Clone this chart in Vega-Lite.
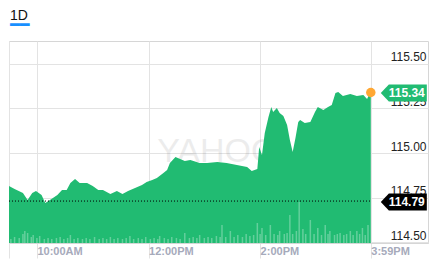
{
  "$schema": "https://vega.github.io/schema/vega-lite/v6.json",
  "width": 419,
  "height": 202,
  "autosize": {"type": "none"},
  "padding": {"left": 9, "top": 41, "right": 9, "bottom": 23},
  "background": "white",
  "config": {"font": "Liberation Sans", "view": {"stroke": "#d6d6d6", "strokeWidth": 1}},
  "title": {"text": "1D", "subtitle": "━━", "anchor": "start", "frame": "group", "fontSize": 14, "fontWeight": "normal", "color": "#111", "subtitleColor": "#188fff", "subtitleFontSize": 16, "subtitleFont": "DejaVu Sans", "subtitlePadding": -6, "offset": 8, "dx": 1},
  "datasets": {
    "price": [
      {"t": 570, "p": 114.815}, {"t": 576, "p": 114.798}, {"t": 585, "p": 114.775}, {"t": 590, "p": 114.736},
      {"t": 595, "p": 114.775}, {"t": 599, "p": 114.787}, {"t": 605, "p": 114.764}, {"t": 609, "p": 114.719},
      {"t": 614, "p": 114.736}, {"t": 622, "p": 114.764}, {"t": 627, "p": 114.792}, {"t": 632, "p": 114.792},
      {"t": 636, "p": 114.831}, {"t": 641, "p": 114.854}, {"t": 646, "p": 114.831}, {"t": 654, "p": 114.831},
      {"t": 660, "p": 114.815}, {"t": 666, "p": 114.792}, {"t": 671, "p": 114.792}, {"t": 679, "p": 114.770},
      {"t": 686, "p": 114.787}, {"t": 692, "p": 114.770}, {"t": 698, "p": 114.787}, {"t": 708, "p": 114.809},
      {"t": 713, "p": 114.820}, {"t": 718, "p": 114.837}, {"t": 724, "p": 114.848}, {"t": 729, "p": 114.860},
      {"t": 736, "p": 114.888}, {"t": 740, "p": 114.904}, {"t": 743, "p": 114.944}, {"t": 749, "p": 114.978},
      {"t": 754, "p": 114.966}, {"t": 759, "p": 114.955}, {"t": 765, "p": 114.961}, {"t": 775, "p": 114.944},
      {"t": 783, "p": 114.944}, {"t": 794, "p": 114.949}, {"t": 804, "p": 114.944}, {"t": 815, "p": 114.933},
      {"t": 826, "p": 114.921}, {"t": 831, "p": 114.899}, {"t": 837, "p": 114.910}, {"t": 839, "p": 115.034},
      {"t": 842, "p": 114.989}, {"t": 845, "p": 115.112}, {"t": 849, "p": 115.202}, {"t": 852, "p": 115.258},
      {"t": 854, "p": 115.230}, {"t": 858, "p": 115.253}, {"t": 861, "p": 115.225}, {"t": 865, "p": 115.208},
      {"t": 869, "p": 115.157}, {"t": 872, "p": 115.073}, {"t": 875, "p": 115.006}, {"t": 878, "p": 115.084},
      {"t": 881, "p": 115.174}, {"t": 883, "p": 115.185}, {"t": 888, "p": 115.169}, {"t": 894, "p": 115.174},
      {"t": 899, "p": 115.230}, {"t": 902, "p": 115.258}, {"t": 908, "p": 115.242}, {"t": 913, "p": 115.258},
      {"t": 917, "p": 115.270}, {"t": 921, "p": 115.337}, {"t": 924, "p": 115.343}, {"t": 929, "p": 115.320},
      {"t": 937, "p": 115.331}, {"t": 944, "p": 115.320}, {"t": 951, "p": 115.326}, {"t": 955, "p": 115.303},
      {"t": 958, "p": 115.337}, {"t": 959, "p": 115.340}
    ],
    "vol": [
      {"t": 572, "v": 4}, {"t": 576, "v": 6}, {"t": 581, "v": 5}, {"t": 585, "v": 9}, {"t": 587, "v": 12},
      {"t": 590, "v": 10}, {"t": 594, "v": 6}, {"t": 596, "v": 8}, {"t": 600, "v": 5}, {"t": 603, "v": 7},
      {"t": 608, "v": 4}, {"t": 612, "v": 5}, {"t": 616, "v": 4}, {"t": 621, "v": 5}, {"t": 625, "v": 6},
      {"t": 629, "v": 4}, {"t": 633, "v": 5}, {"t": 636, "v": 8}, {"t": 640, "v": 4}, {"t": 644, "v": 5},
      {"t": 649, "v": 4}, {"t": 653, "v": 5}, {"t": 657, "v": 4}, {"t": 662, "v": 6}, {"t": 667, "v": 4},
      {"t": 671, "v": 5}, {"t": 675, "v": 4}, {"t": 679, "v": 6}, {"t": 683, "v": 4}, {"t": 687, "v": 5},
      {"t": 692, "v": 4}, {"t": 696, "v": 5}, {"t": 700, "v": 7}, {"t": 704, "v": 4}, {"t": 709, "v": 5},
      {"t": 713, "v": 4}, {"t": 717, "v": 6}, {"t": 722, "v": 4}, {"t": 726, "v": 5}, {"t": 730, "v": 4},
      {"t": 732, "v": 7}, {"t": 737, "v": 5}, {"t": 741, "v": 4}, {"t": 745, "v": 6}, {"t": 750, "v": 5},
      {"t": 754, "v": 4}, {"t": 759, "v": 10}, {"t": 764, "v": 5}, {"t": 768, "v": 6}, {"t": 772, "v": 5},
      {"t": 775, "v": 8}, {"t": 780, "v": 5}, {"t": 784, "v": 6}, {"t": 788, "v": 5}, {"t": 793, "v": 7},
      {"t": 797, "v": 6}, {"t": 799, "v": 18}, {"t": 803, "v": 6}, {"t": 808, "v": 12}, {"t": 812, "v": 6},
      {"t": 816, "v": 8}, {"t": 821, "v": 6}, {"t": 825, "v": 9}, {"t": 829, "v": 7}, {"t": 833, "v": 8},
      {"t": 837, "v": 20}, {"t": 840, "v": 9}, {"t": 842, "v": 15}, {"t": 846, "v": 8}, {"t": 851, "v": 18},
      {"t": 855, "v": 9}, {"t": 859, "v": 8}, {"t": 861, "v": 12}, {"t": 866, "v": 9}, {"t": 869, "v": 10},
      {"t": 872, "v": 28}, {"t": 875, "v": 9}, {"t": 879, "v": 12}, {"t": 882, "v": 41}, {"t": 886, "v": 14},
      {"t": 889, "v": 9}, {"t": 894, "v": 23}, {"t": 898, "v": 9}, {"t": 902, "v": 15}, {"t": 906, "v": 8},
      {"t": 910, "v": 18}, {"t": 913, "v": 9}, {"t": 915, "v": 12}, {"t": 920, "v": 8}, {"t": 923, "v": 9},
      {"t": 926, "v": 10}, {"t": 930, "v": 8}, {"t": 933, "v": 9}, {"t": 937, "v": 12}, {"t": 940, "v": 8},
      {"t": 944, "v": 12}, {"t": 947, "v": 9}, {"t": 950, "v": 15}, {"t": 953, "v": 8}, {"t": 956, "v": 18}
    ],
    "badges": [
      {"t": 959, "p": 115.337, "label": "115.34", "kind": "last"},
      {"t": 959, "p": 114.725, "label": "114.79", "kind": "prev"}
    ]
  },
  "layer": [
    {
      "layer": [
        {
          "data": {"values": [{"t": 799, "p": 115.006, "w": "YAHOO!"}]},
          "mark": {"type": "text", "fontSize": 34, "color": "#000", "opacity": 0.07, "align": "center", "baseline": "middle"},
          "encoding": {
            "x": {"field": "t", "type": "quantitative"},
            "y": {"field": "p", "type": "quantitative"},
            "text": {"field": "w"}
          }
        },
        {
          "data": {"name": "price"},
          "mark": {"type": "area", "color": "#21bb72", "clip": true},
          "encoding": {
            "x": {"field": "t", "type": "quantitative",
              "scale": {"domain": [570, 1020.5], "nice": false, "zero": false},
              "axis": {"values": [570, 600, 720, 840, 959], "zindex": 0,
                "labelExpr": "datum.value==600?'10:00AM':datum.value==720?'12:00PM':datum.value==840?'2:00PM':datum.value==959?'3:59PM':''",
                "grid": true, "gridColor": "#e3e3e3", "tickSize": 15, "tickColor": "#e3e3e3", "domain": true, "domainColor": "#d6d6d6",
                "labelAlign": "left", "labelBaseline": "top", "labelPadding": -13, "labelDx": 4, "labelFontSize": 11, "labelFontWeight": "bold",
                "labelColor": "#a6aabb", "labelFlush": false, "labelOverlap": false, "title": null}},
            "y": {"field": "p", "type": "quantitative",
              "scale": {"domain": [114.4944, 115.6292], "nice": false, "zero": false},
              "axis": {"orient": "right", "values": [114.5, 114.75, 115, 115.25, 115.5], "format": ".2f", "zindex": 0,
                "grid": true, "gridColor": "#e3e3e3", "ticks": false, "domain": false,
                "labelAlign": "right", "labelBaseline": "bottom", "labelPadding": -2, "labelDy": -1,
                "labelFontSize": 12, "labelColor": "#222", "title": null}}
          }
        },
        {
          "data": {"values": [{"t": 570, "t2": 959, "p": 114.73}]},
          "mark": {"type": "rule", "color": "#000", "strokeWidth": 1, "strokeDash": [1, 2]},
          "encoding": {
            "x": {"field": "t", "type": "quantitative"},
            "x2": {"field": "t2"},
            "y": {"field": "p", "type": "quantitative"}
          }
        },
        {
          "data": {"name": "badges"},
          "mark": {"type": "point", "shape": "M-1,0L-0.65,-0.37L1,-0.37L1,0.37L-0.65,0.37Z", "filled": true, "opacity": 1, "size": 2116, "xOffset": 33, "strokeWidth": 0},
          "encoding": {
            "x": {"field": "t", "type": "quantitative"},
            "y": {"field": "p", "type": "quantitative"},
            "color": {"field": "kind", "type": "nominal", "scale": {"domain": ["last", "prev"], "range": ["#21bb72", "#000000"]}, "legend": null}
          }
        },
        {
          "data": {"name": "badges"},
          "mark": {"type": "text", "align": "right", "baseline": "middle", "xOffset": 54, "fontSize": 12, "fontWeight": "bold", "color": "#ffffff"},
          "encoding": {
            "x": {"field": "t", "type": "quantitative"},
            "y": {"field": "p", "type": "quantitative"},
            "text": {"field": "label"}
          }
        },
        {
          "data": {"values": [{"t": 959, "p": 115.34}]},
          "mark": {"type": "point", "filled": true, "opacity": 1, "color": "#ffa733", "size": 90},
          "encoding": {
            "x": {"field": "t", "type": "quantitative"},
            "y": {"field": "p", "type": "quantitative"}
          }
        }
      ]
    },
    {
      "data": {"name": "vol"},
      "mark": {"type": "rule", "color": "#ffffff", "opacity": 0.3, "strokeWidth": 1.5},
      "encoding": {
        "x": {"field": "t", "type": "quantitative"},
        "y": {"field": "v", "type": "quantitative", "scale": {"domain": [0, 202]}, "axis": null},
        "y2": {"datum": 0}
      }
    }
  ],
  "resolve": {"scale": {"y": "independent"}}
}
